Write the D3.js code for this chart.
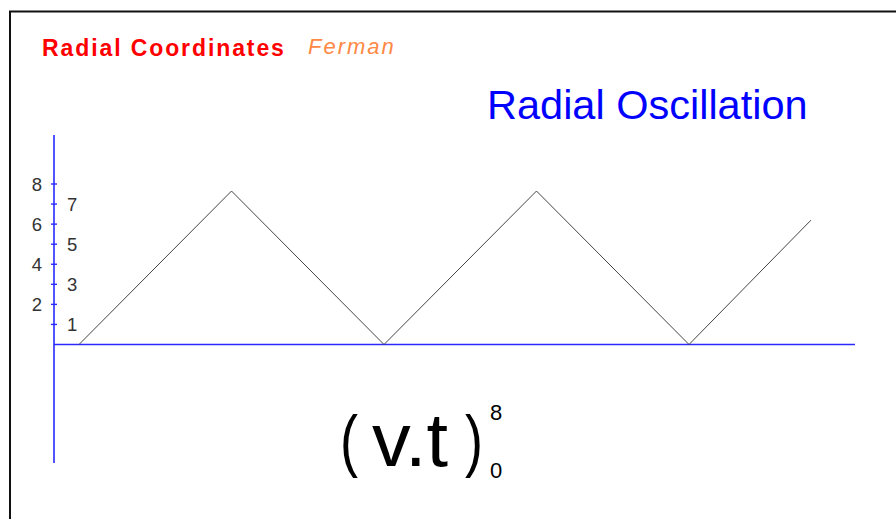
<!DOCTYPE html>
<html>
<head>
<meta charset="utf-8">
<script src="https://cdn.jsdelivr.net/npm/d3@7"></script>
<style>
  body { margin: 0; background: #fff; }
  svg { display: block; }
</style>
</head>
<body>
<svg id="drawing_region"></svg>
<script>
// distance along (v.t) and the radial value r
const t_values = [0, 1, 2, 3, 4, 4.8];
const r_values = [0, 7.65, 0, 7.65, 0, 6.2];
const left_ticks = [2, 4, 6, 8];
const right_ticks = [1, 3, 5, 7];
const all_ticks = [1, 2, 3, 4, 5, 6, 7, 8];

const data = t_values.map((t, i) => ({ t: t, r: r_values[i] }));

const config = {
    width: 896,
    height: 519,
    origin: { x: 54, y: 344.5 }
};

const font = 'Arial, Liberation Sans, sans-serif';

const svg = d3.select('#drawing_region')
    .attr('width', config.width)
    .attr('height', config.height);

// frame
svg.append('path')
    .attr('d', 'M10,519 V11.5 H896')
    .attr('fill', 'none')
    .attr('stroke', '#111')
    .attr('stroke-width', 2);

// scales: 1 unit of t = 152.5px, 1 unit of r = 20.07px
const xscale = d3.scaleLinear()
    .domain([0, 1])
    .range([79, 231.5]);

const yscale = d3.scaleLinear()
    .domain([0, 8])
    .range([config.origin.y, 184]);

// axes
svg.append('line')
    .attr('x1', config.origin.x).attr('x2', 855)
    .attr('y1', config.origin.y).attr('y2', config.origin.y)
    .attr('stroke', '#2a2aff')
    .attr('stroke-width', 1.4);

svg.append('line')
    .attr('x1', config.origin.x).attr('x2', config.origin.x)
    .attr('y1', 135).attr('y2', 463)
    .attr('stroke', '#2a2aff')
    .attr('stroke-width', 1.6);

svg.selectAll('.tick_mark')
    .data(all_ticks)
    .enter()
    .append('line')
    .attr('class', 'tick_mark')
    .attr('x1', config.origin.x - 3)
    .attr('x2', config.origin.x + 3)
    .attr('y1', d => yscale(d))
    .attr('y2', d => yscale(d))
    .attr('stroke', '#2a2aff')
    .attr('stroke-width', 1.4);

svg.selectAll('.left_label')
    .data(left_ticks)
    .enter()
    .append('text')
    .attr('class', 'left_label')
    .attr('x', 42)
    .attr('y', d => yscale(d) + 7)
    .attr('text-anchor', 'end')
    .attr('font-family', font)
    .attr('font-size', '18.5px')
    .attr('fill', '#333')
    .text(d => d);

svg.selectAll('.right_label')
    .data(right_ticks)
    .enter()
    .append('text')
    .attr('class', 'right_label')
    .attr('x', 67)
    .attr('y', d => yscale(d) + 7)
    .attr('font-family', font)
    .attr('font-size', '18.5px')
    .attr('fill', '#333')
    .text(d => d);

// the oscillation
const line = d3.line()
    .x(d => xscale(d.t))
    .y(d => yscale(d.r));

svg.append('path')
    .attr('d', line(data))
    .attr('fill', 'none')
    .attr('stroke', '#444')
    .attr('stroke-width', 1);

// titles
svg.append('text')
    .attr('x', 42)
    .attr('y', 56)
    .attr('font-family', font)
    .attr('font-weight', 'bold')
    .attr('font-size', '23px')
    .attr('letter-spacing', '1.9px')
    .attr('fill', '#ff0000')
    .text('Radial Coordinates');

svg.append('text')
    .attr('x', 308)
    .attr('y', 54)
    .attr('font-family', font)
    .attr('font-style', 'italic')
    .attr('font-size', '22px')
    .attr('letter-spacing', '2px')
    .attr('fill', '#ff8844')
    .text('Ferman');

svg.append('text')
    .attr('x', 487)
    .attr('y', 119)
    .attr('font-family', font)
    .attr('font-size', '41.5px')
    .attr('fill', '#0000ff')
    .text('Radial Oscillation');

// (v.t) with limits
const expr = svg.append('g')
    .attr('font-family', font)
    .attr('fill', '#000');

expr.append('text')
    .attr('x', 340)
    .attr('y', 464)
    .attr('font-size', '68px')
    .attr('textLength', 18)
    .attr('lengthAdjust', 'spacingAndGlyphs')
    .text('(');

expr.append('text')
    .attr('x', 372)
    .attr('y', 466)
    .attr('font-size', '76px')
    .attr('textLength', 76)
    .attr('lengthAdjust', 'spacingAndGlyphs')
    .text('v.t');

expr.append('text')
    .attr('x', 465)
    .attr('y', 464)
    .attr('font-size', '68px')
    .attr('textLength', 18)
    .attr('lengthAdjust', 'spacingAndGlyphs')
    .text(')');

expr.append('text')
    .attr('x', 490)
    .attr('y', 420)
    .attr('font-size', '22px')
    .text('8');

expr.append('text')
    .attr('x', 490)
    .attr('y', 478)
    .attr('font-size', '22px')
    .text('0');
</script>
</body>
</html>
